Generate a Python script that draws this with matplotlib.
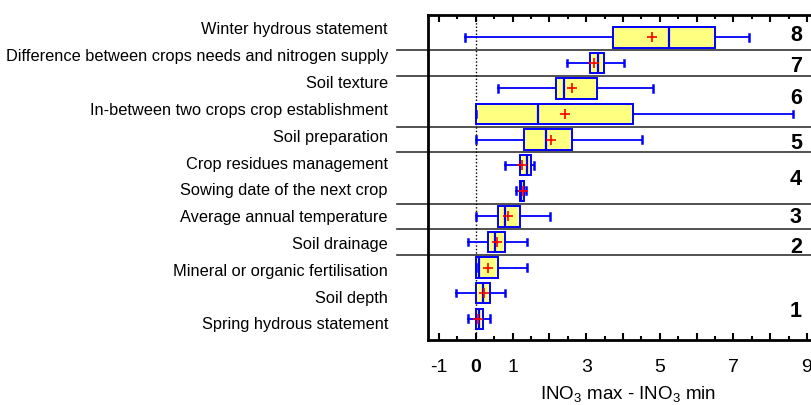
import matplotlib
matplotlib.use("Agg")
import matplotlib.pyplot as plt
from matplotlib.ticker import FixedLocator, FixedFormatter, MultipleLocator

plt.rcParams['font.family'] = ['Liberation Sans', 'DejaVu Sans']
plt.rcParams['mathtext.fontset'] = 'custom'
plt.rcParams['mathtext.rm'] = 'Liberation Sans'
plt.rcParams['mathtext.default'] = 'regular'

# ── Data (bottom row first) ──────────────────────────────────────────────
factors = [
    "Spring hydrous statement",
    "Soil depth",
    "Mineral or organic fertilisation",
    "Soil drainage",
    "Average annual temperature",
    "Sowing date of the next crop",
    "Crop residues management",
    "Soil preparation",
    "In-between two crops crop establishment",
    "Soil texture",
    "Difference between crops needs and nitrogen supply",
    "Winter hydrous statement",
]
whis_low = [-0.21, -0.53, 0.00, -0.21, 0.00, 1.08, 0.78, 0.00, 0.00, 0.60, 2.49, -0.30]
q1 = [0.00, 0.00, 0.00, 0.34, 0.59, 1.20, 1.19, 1.31, 0.00, 2.19, 3.11, 3.74]
median = [0.08, 0.19, 0.08, 0.51, 0.79, 1.22, 1.40, 1.90, 1.69, 2.39, 3.31, 5.26]
q3 = [0.20, 0.39, 0.59, 0.80, 1.21, 1.31, 1.51, 2.61, 4.26, 3.30, 3.49, 6.51]
whis_high = [0.38, 0.79, 1.40, 1.40, 2.01, 1.37, 1.59, 4.51, 8.61, 4.82, 4.02, 7.42]
mean = [0.06, 0.21, 0.33, 0.58, 0.88, 1.27, 1.25, 2.03, 2.43, 2.62, 3.21, 4.80]

groups = ["1", "2", "3", "4", "5", "6", "7", "8"]

x_ticks = [-1, 0, 1, 2, 3, 4, 5, 6, 7, 8, 9]
x_ticklabels = ["-1", "0", "1", "", "3", "", "5", "", "7", "", "9"]

# ── Layout ───────────────────────────────────────────────────────────────
group_y = [1.27, 3.79, 4.95, 6.45, 7.86, 9.62, 10.85, 12.08]
separators = [3.5, 4.5, 5.5, 7.5, 8.5, 10.5, 11.5]

W, H = 811, 405
fig = plt.figure(figsize=(W / 100, H / 100), dpi=100)
ax = fig.add_axes([427.7 / W, 1 - 340 / H, 1 - 427.7 / W, (340 - 15) / H])

rows = list(range(1, len(factors) + 1))
stats = [
    dict(whislo=lo, q1=a, med=m, q3=b, whishi=hi, mean=mu, fliers=[])
    for lo, a, m, b, hi, mu in zip(whis_low, q1, median, q3, whis_high, mean)
]
ax.bxp(
    stats, positions=rows, orientation='horizontal', widths=0.8,
    patch_artist=True, showmeans=True, capwidths=0.26,
    boxprops=dict(facecolor='#ffff80', edgecolor='#0000ff', linewidth=1.4),
    medianprops=dict(color='#0000ff', linewidth=1.6),
    whiskerprops=dict(color='#0000ff', linewidth=1.3),
    capprops=dict(color='#0000ff', linewidth=1.8),
    meanprops=dict(marker='+', markeredgecolor='red', markersize=7,
                   markeredgewidth=1.2),
    zorder=3,
)

ax.axvline(0, color='black', linestyle=(0, (1, 1.5)), linewidth=1, zorder=2)

ax.set_xlim(-1.31, 9.11)
ax.set_ylim(0.17, 12.87)

# separator lines run out into the label area
trans = ax.get_yaxis_transform()
for s in separators:
    ax.plot([-0.08, 1.0], [s, s], transform=trans, color='#333333',
            linewidth=1.2, clip_on=False, zorder=1)

for g, gy in zip(groups, group_y):
    ax.text(8.70, gy, g, ha='center', va='center', fontsize=15.5,
            fontweight='bold', zorder=4)

# labels in the original sit on a slightly wider pitch than the boxes
for r, name in zip(rows, factors):
    ax.text(-0.1036, 1.048 * r - 0.29, name, transform=trans, ha='right',
            va='center', fontsize=11.8, clip_on=False)

ax.xaxis.set_major_locator(FixedLocator(x_ticks))
ax.xaxis.set_major_formatter(FixedFormatter(x_ticklabels))
ax.xaxis.set_minor_locator(MultipleLocator(0.5))
ax.tick_params(axis='x', which='both', direction='in', top=True, bottom=True,
               width=1.5, labelsize=14, pad=14)
ax.tick_params(axis='x', which='major', length=5)
ax.tick_params(axis='x', which='minor', length=3)
ax.tick_params(axis='y', left=False, labelleft=False)
ax.get_xticklabels()[1].set_fontweight('bold')

for side in ['left', 'bottom', 'top']:
    ax.spines[side].set_linewidth(2)
ax.spines['right'].set_visible(False)

fig.text(628 / W, 1 - 394 / H, r"INO$_3$ max - INO$_3$ min", ha='center',
         va='center', fontsize=13.5)

fig.savefig("out.png", dpi=100)
